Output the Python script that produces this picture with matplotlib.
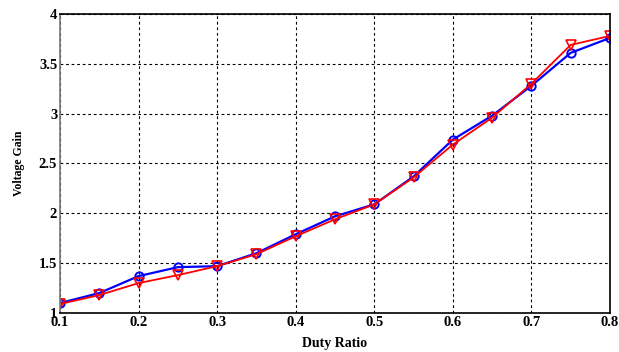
import matplotlib
matplotlib.use("Agg")
import matplotlib.pyplot as plt

# duty ratio values and measured voltage gain
duty = [0.1, 0.15, 0.2, 0.25, 0.3, 0.35, 0.4, 0.45, 0.5, 0.55, 0.6, 0.65, 0.7, 0.75, 0.8]
gain_blue = [1.10, 1.20, 1.37, 1.46, 1.47, 1.60, 1.79, 1.97, 2.09, 2.37, 2.74, 2.98, 3.28, 3.61, 3.76]
gain_red = [1.09, 1.18, 1.30, 1.38, 1.47, 1.59, 1.77, 1.94, 2.09, 2.36, 2.69, 2.96, 3.30, 3.69, 3.78]

xticks = [0.1, 0.2, 0.3, 0.4, 0.5, 0.6, 0.7, 0.8]
yticks = [1, 1.5, 2, 2.5, 3, 3.5, 4]

plt.rcParams['font.family'] = ['Liberation Serif', 'DejaVu Serif']

fig = plt.figure(figsize=(6.19, 3.52), dpi=100)
ax = fig.add_axes([60 / 619, 1 - 313 / 352, 550 / 619, 299 / 352])

ax.plot(duty, gain_blue, color='blue', lw=1.6, marker='o', ms=6,
        mfc='none', mec='blue', mew=1.4)
ax.plot(duty, gain_red, color='red', lw=1.3, marker='v', ms=7,
        mfc='none', mec='red', mew=1.2)

ax.set_xlim(0.1, 0.8)
ax.set_ylim(1, 4)
ax.set_xticks(xticks)
ax.set_yticks(yticks)
ax.set_xticklabels([str(t) for t in xticks], fontweight='bold', fontsize=10.5)
ax.set_yticklabels(['1', '1.5', '2', '2.5', '3', '3.5', '4'], fontweight='bold', fontsize=10.5)
ax.tick_params(direction='in', length=0, pad=2)

ax.grid(True, color='black', linestyle=(0, (2.5, 2.5)), linewidth=0.8)
for s in ax.spines.values():
    s.set_linewidth(1.2)
ax.spines['left'].set_color('#777777')

ax.set_xlabel('Duty Ratio', fontweight='bold', fontsize=10, labelpad=6)
ax.set_ylabel('Voltage Gain', fontweight='bold', fontsize=8.5, labelpad=10)

fig.savefig('out.png', dpi=100)
